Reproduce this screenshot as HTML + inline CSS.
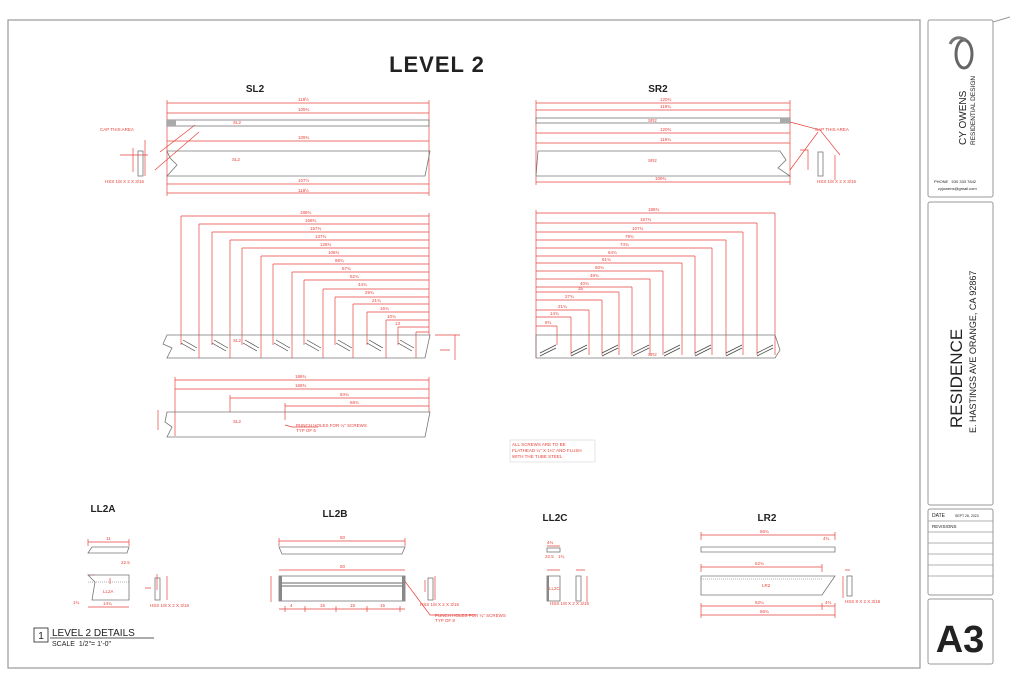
<!DOCTYPE html>
<html><head><meta charset="utf-8"><style>
html,body{margin:0;padding:0;background:#fff;width:1024px;height:684px;overflow:hidden}
svg{display:block}
.r{stroke:#e8443c;stroke-width:.7;fill:none}
.g{stroke:#777;stroke-width:.8;fill:none}
.k{stroke:#444;stroke-width:.7;fill:none}
.t{font-family:"Liberation Sans",sans-serif;fill:#e8443c;font-size:4.5px}
.b{font-family:"Liberation Sans",sans-serif;fill:#222}
</style></head><body>
<svg width="1024" height="684" viewBox="0 0 1024 684">
<rect x="8" y="20" width="912" height="648" fill="none" stroke="#999" stroke-width="1.2"/>
<rect x="928" y="20" width="65" height="177" rx="2" fill="none" stroke="#999"/>
<rect x="928" y="202" width="65" height="303" rx="2" fill="none" stroke="#999"/>
<rect x="928" y="509" width="65" height="86" rx="2" fill="none" stroke="#999"/>
<rect x="928" y="599" width="65" height="65" rx="2" fill="none" stroke="#999"/>
<line x1="993" y1="22" x2="1010" y2="17" stroke="#999"/>
<g stroke="#999" stroke-width=".7"><line x1="928" y1="521" x2="993" y2="521"/><line x1="928" y1="532" x2="993" y2="532"/><line x1="928" y1="543" x2="993" y2="543"/><line x1="928" y1="554" x2="993" y2="554"/><line x1="928" y1="565" x2="993" y2="565"/><line x1="928" y1="576" x2="993" y2="576"/></g>
<text x="932" y="517" class="b" font-size="5">DATE</text><text x="955" y="517" class="b" font-size="3.5">SEPT 26, 2023</text>
<text x="932" y="528" class="b" font-size="4.5">REVISIONS</text>
<text x="960" y="652" class="b" font-size="38" font-weight="bold" text-anchor="middle">A3</text>
<ellipse cx="964" cy="54" rx="8" ry="14" fill="none" stroke="#666" stroke-width="3"/>
<path d="M950 44 Q955 34 966 40" fill="none" stroke="#777" stroke-width="3"/>
<text transform="translate(966,145) rotate(-90)" class="b" font-size="10">CY OWENS</text>
<text transform="translate(975,145) rotate(-90)" class="b" font-size="6.5">RESIDENTIAL DESIGN</text>
<text x="934" y="183" class="b" font-size="4">PHONE &#160; 530 333 7842</text>
<text x="938" y="190" class="b" font-size="4">cyjowens@gmail.com</text>
<text transform="translate(962,428) rotate(-90)" class="b" font-size="17">RESIDENCE</text>
<text transform="translate(976,433) rotate(-90)" class="b" font-size="9">E. HASTINGS AVE ORANGE, CA 92867</text>

<text x="437" y="72" class="b" font-size="22" font-weight="bold" text-anchor="middle" letter-spacing="1">LEVEL 2</text>
<text x="255" y="92" class="b" font-size="10" font-weight="bold" text-anchor="middle">SL2</text>
<text x="658" y="92" class="b" font-size="10" font-weight="bold" text-anchor="middle">SR2</text>

<g class="r"><line x1="167" y1="103" x2="429" y2="103"/><line x1="167" y1="113" x2="429" y2="113"/><line x1="167" y1="141" x2="429" y2="141"/><line x1="167" y1="184" x2="429" y2="184"/><line x1="167" y1="193" x2="429" y2="193"/>
<line x1="167" y1="100" x2="167" y2="196"/><line x1="429" y1="100" x2="429" y2="196"/>
<path d="M160 152 L195 125 M199 132 L155 170 M145 140 L145 176 M120 155 L148 155 M133 148 L133 172"/></g>
<text x="298" y="101" class="t">118&#189;</text><text x="298" y="111" class="t">109&#190;</text><text x="298" y="139" class="t">109&#190;</text><text x="298" y="182" class="t">107&#189;</text><text x="298" y="192" class="t">118&#189;</text>
<text x="100" y="131" class="t">CAP THIS AREA</text><text x="105" y="183" class="t">HSS 1/8 X 2 X 3/16</text>
<rect x="167" y="120" width="262" height="6" class="g"/><rect x="167" y="120" width="9" height="6" fill="#aaa"/>
<text x="233" y="124" class="t" fill="#555">SL2</text>
<path d="M167 151 L430 151 L425 176 L167 176 L177 165 L170 158 Z" class="g"/>
<text x="232" y="161" class="t" fill="#555">SL2</text>
<rect x="138" y="151" width="5" height="25" class="g"/>

<g class="r"><line x1="536" y1="103" x2="790" y2="103"/><line x1="536" y1="110" x2="790" y2="110"/><line x1="536" y1="133" x2="790" y2="133"/><line x1="536" y1="143" x2="790" y2="143"/><line x1="536" y1="182" x2="790" y2="182"/>
<line x1="536" y1="100" x2="536" y2="185"/><line x1="790" y1="100" x2="790" y2="185"/>
<path d="M790 122 L820 130 L840 155 M818 132 L790 170 M835 155 L835 180 M800 150 L808 150 L808 170"/></g>
<text x="660" y="101" class="t">120&#190;</text><text x="660" y="108" class="t">119&#190;</text><text x="660" y="131" class="t">120&#190;</text><text x="660" y="141" class="t">119&#190;</text><text x="655" y="180" class="t">109&#190;</text>
<text x="815" y="131" class="t">CAP THIS AREA</text><text x="817" y="183" class="t">HSS 1/8 X 2 X 3/16</text>
<rect x="536" y="118" width="254" height="5" class="g"/><rect x="780" y="118" width="10" height="5" fill="#aaa"/>
<text x="648" y="122" class="t" fill="#555">SR2</text>
<path d="M538 151 L780 151 L786 160 L778 168 L790 176 L536 176 Z" class="g"/>
<text x="648" y="162" class="t" fill="#555">SR2</text>
<rect x="818" y="152" width="5" height="24" class="g"/>

<g class="r">
<path d="M181 216H429M199 224H429M212 232H429M230 240H429M242 248H429M261 256H429M273 264H429M292 272H429M304 280H429M323 289H429M335 297H429M353 304H429M367 312H429M386 320H429M398 327H429M416 332H429"/>
<path d="M181 216V345M199 224V358M212 232V345M230 240V358M242 248V345M261 256V358M273 264V345M292 272V358M304 280V345M323 289V358M335 297V345M353 304V358M367 312V345M386 320V358M398 327V345M416 332V358M429 213V335"/>
<path d="M435 335H460M440 350H450M455 335V360"/></g>
<text x="300" y="214" class="t">188&#190;</text><text x="305" y="222" class="t">168&#190;</text><text x="310" y="230" class="t">157&#190;</text><text x="315" y="238" class="t">137&#190;</text><text x="320" y="246" class="t">128&#190;</text><text x="328" y="254" class="t">108&#190;</text><text x="335" y="262" class="t">88&#190;</text><text x="342" y="270" class="t">67&#190;</text><text x="350" y="278" class="t">52&#190;</text><text x="358" y="286" class="t">44&#190;</text><text x="365" y="294" class="t">29&#190;</text><text x="372" y="302" class="t">21&#190;</text><text x="380" y="310" class="t">16&#190;</text><text x="387" y="318" class="t">10&#190;</text><text x="395" y="325" class="t">13</text>
<path d="M167 335 L430 335 L425 358 L167 358 L172 348 L163 344 Z" class="g"/>
<text x="233" y="342" class="t" fill="#555">SL2</text>
<g class="k"><path d="M181 343l14 8M183 340l14 8M212 343l14 8M214 340l14 8M243 343l14 8M245 340l14 8M274 343l14 8M276 340l14 8M305 343l14 8M307 340l14 8M336 343l14 8M338 340l14 8M367 343l14 8M369 340l14 8M398 343l14 8M400 340l14 8"/></g>

<g class="r">
<path d="M536 213H775M536 223H757M536 232H743M536 240H726M536 248H712M536 256H695M536 263H682M536 271H663M536 279H650M536 287H632M536 292H619M536 300H602M536 310H589M536 317H571M536 326H557"/>
<path d="M536 210V358M775 213V355M757 223V355M743 232V355M726 240V355M712 248V355M695 256V355M682 263V355M663 271V355M650 279V355M632 287V355M619 292V355M602 300V355M589 310V355M571 317V355M557 326V345"/></g>
<text x="648" y="211" class="t">188&#190;</text><text x="640" y="221" class="t">157&#190;</text><text x="632" y="230" class="t">107&#190;</text><text x="625" y="238" class="t">79&#190;</text><text x="620" y="246" class="t">74&#190;</text><text x="608" y="254" class="t">64&#190;</text><text x="602" y="261" class="t">61&#190;</text><text x="595" y="269" class="t">50&#190;</text><text x="590" y="277" class="t">48&#190;</text><text x="580" y="285" class="t">40&#190;</text><text x="578" y="290" class="t">35</text><text x="565" y="298" class="t">27&#190;</text><text x="558" y="308" class="t">21&#190;</text><text x="550" y="315" class="t">14&#190;</text><text x="545" y="324" class="t">8&#190;</text>
<path d="M536 335 L775 335 L780 350 L775 358 L536 358 Z" class="g"/>
<text x="648" y="356" class="t" fill="#555">SR2</text>
<g class="k"><path d="M540 353l16-8M540 356l16-8M571 353l16-8M571 356l16-8M602 353l16-8M602 356l16-8M633 353l16-8M633 356l16-8M664 353l16-8M664 356l16-8M695 353l16-8M695 356l16-8M726 353l16-8M726 356l16-8M757 353l16-8M757 356l16-8"/></g>

<g class="r"><path d="M175 380H429M175 389H429M230 398H429M285 406H429M175 377V436M429 377V412M230 395V412M285 403V420M158 410V430M285 425 L292 427H318"/></g>
<text x="295" y="378" class="t">188&#190;</text><text x="295" y="387" class="t">168&#190;</text><text x="340" y="396" class="t">84&#190;</text><text x="350" y="404" class="t">68&#190;</text>
<text x="296" y="427" class="t">PUNCH HOLES FOR &#188;" SCREWS</text><text x="296" y="432" class="t">TYP OF 6</text>
<path d="M167 412 L430 412 L425 437 L167 437 L172 427 L165 422 Z" class="g"/>
<text x="233" y="423" class="t" fill="#555">SL2</text>
<rect x="510" y="440" width="85" height="22" fill="none" stroke="#ccc" stroke-width=".5"/>
<text x="512" y="446" class="t">ALL SCREWS ARE TO BE</text><text x="512" y="452" class="t">FLATHEAD &#188;" X 1&#188;" AND FLUSH</text><text x="512" y="458" class="t">WITH THE TUBE STEEL</text>

<text x="103" y="512" class="b" font-size="10" font-weight="bold" text-anchor="middle">LL2A</text>
<text x="335" y="517" class="b" font-size="10" font-weight="bold" text-anchor="middle">LL2B</text>
<text x="555" y="521" class="b" font-size="10" font-weight="bold" text-anchor="middle">LL2C</text>
<text x="767" y="521" class="b" font-size="10" font-weight="bold" text-anchor="middle">LR2</text>

<g class="r"><path d="M88 542H129M88 539V546M129 539V546M88 607H129M88 575H95M110 578V584M167 576V600M157 574V590M145 588H151"/></g>
<text x="106" y="540" class="t">11</text><text x="121" y="564" class="t">22.5</text><text x="103" y="605" class="t">14&#190;</text><text x="73" y="604" class="t">1&#190;</text>
<text x="150" y="607" class="t">HSS 1/8 X 2 X 3/16</text>
<path d="M92 547H129L127 553H88Z" class="g"/>
<path d="M88 575H129V600H92L95 582Z" class="g"/>
<line x1="88" y1="582" x2="129" y2="582" stroke="#666" stroke-width=".5" stroke-dasharray="1,1"/>
<text x="103" y="593" class="t" fill="#555">LL2A</text>
<rect x="155" y="578" width="5" height="22" class="g"/>

<g class="r"><path d="M279 541H405M279 538V546M405 538V546M279 570H405M271 576V602M279 609H405M285 606V612M305 606V612M336 606V612M367 606V612M400 606V612M404 580 L430 615H475M435 576V600M425 580V592"/></g>
<text x="340" y="539" class="t">50</text><text x="340" y="568" class="t">50</text>
<text x="290" y="607" class="t">4</text><text x="320" y="607" class="t">15</text><text x="350" y="607" class="t">15</text><text x="380" y="607" class="t">15</text>
<text x="420" y="606" class="t">HSS 1/8 X 2 X 3/16</text>
<text x="435" y="617" class="t">PUNCH HOLES FOR &#188;" SCREWS</text><text x="435" y="622" class="t">TYP OF 8</text>
<path d="M279 547H405L402 554H282Z" class="g"/>
<rect x="279" y="576" width="126" height="25" class="g"/>
<line x1="282" y1="583" x2="402" y2="583" stroke="#666"/><line x1="282" y1="586" x2="402" y2="586" stroke="#666"/>
<rect x="279" y="576" width="3" height="25" fill="#888"/><rect x="402" y="576" width="3" height="25" fill="#888"/>
<rect x="428" y="578" width="5" height="22" class="g"/>

<g class="r"><path d="M547 546H560M547 570H560M587 576V602M576 570H585"/></g>
<text x="547" y="544" class="t">4&#190;</text><text x="545" y="558" class="t">22.5</text><text x="558" y="558" class="t">1&#190;</text>
<text x="550" y="605" class="t">HSS 1/8 X 2 X 3/16</text>
<rect x="547" y="548" width="13" height="4" class="g"/>
<rect x="547" y="576" width="13" height="25" class="g"/><rect x="547" y="576" width="2" height="25" fill="#888"/>
<text x="549" y="590" class="t" fill="#555">LL2C</text>
<rect x="576" y="576" width="5" height="25" class="g"/>

<g class="r"><path d="M701 535H835M701 532V540M835 532V540M701 567H822M701 564V572M822 564V572M701 606H835M701 615H835M701 603V618M835 603V618M822 603V610M843 576V598M845 570H850"/></g>
<text x="760" y="533" class="t">56&#190;</text><text x="823" y="540" class="t">4&#190;</text><text x="755" y="565" class="t">52&#190;</text><text x="755" y="604" class="t">52&#188;</text><text x="825" y="604" class="t">4&#190;</text><text x="760" y="613" class="t">56&#190;</text>
<text x="845" y="603" class="t">HSS 8 X 2 X 3/16</text>
<path d="M701 547H835V552H701Z" class="g"/>
<path d="M701 576H835L822 595H701Z" class="g"/>
<line x1="701" y1="579" x2="822" y2="579" stroke="#666" stroke-width=".5" stroke-dasharray="1,1"/>
<text x="762" y="587" class="t" fill="#555">LR2</text>
<rect x="847" y="576" width="5" height="20" class="g"/>

<rect x="34" y="628" width="14" height="14" fill="none" stroke="#222" stroke-width=".8"/>
<text x="41" y="639" class="b" font-size="10" text-anchor="middle">1</text>
<text x="52" y="636" class="b" font-size="10">LEVEL 2 DETAILS</text>
<line x1="50" y1="638" x2="154" y2="638" stroke="#222" stroke-width=".8"/>
<text x="52" y="646" class="b" font-size="7">SCALE &#160;1/2"= 1'-0"</text>
</svg>
</body></html>
